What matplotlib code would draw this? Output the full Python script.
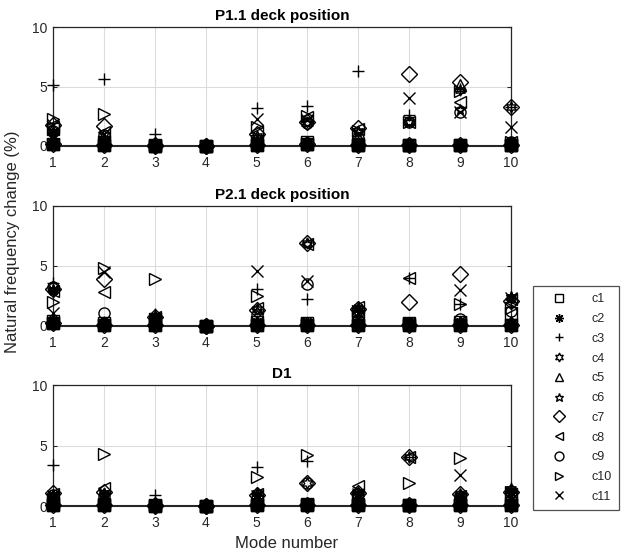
import numpy as np
import matplotlib.pyplot as plt

plt.rcParams['font.family'] = ['Liberation Sans', 'DejaVu Sans']

modes = [1, 2, 3, 4, 5, 6, 7, 8, 9, 10]
cases = ['c1', 'c2', 'c3', 'c4', 'c5', 'c6', 'c7', 'c8', 'c9', 'c10', 'c11']
markers = ['s', (8, 2, 0), '+', (6, 1, 0), '^', '*', 'D', '<', 'o', '>', 'x']
titles = ['P1.1 deck position', 'P2.1 deck position', 'D1']

# frequency change (%) for the larger damage level, one row per case
p11_change = [
    [1.4, 0.3, 0.1, 0.0, 0.4, 0.3, 0.2, 0.1, 0.1, 0.1],
    [1.2, 0.2, 0.0, 0.0, 0.3, 0.3, 0.1, 0.1, 0.1, 0.1],
    [5.1, 5.6, 1.0, 0.1, 3.2, 3.4, 6.3, 2.6, 4.8, 3.3],
    [1.2, 0.9, 0.1, 0.0, 0.8, 2.0, 1.3, 2.0, 4.7, 3.3],
    [0.3, 0.2, 0.0, 0.0, 0.3, 0.2, 0.1, 0.1, 5.1, 0.2],
    [1.0, 0.5, 0.1, 0.0, 0.6, 1.9, 1.2, 2.0, 3.0, 0.3],
    [1.8, 1.7, 0.1, 0.0, 1.0, 2.0, 1.5, 6.1, 5.4, 3.3],
    [1.6, 1.2, 0.1, 0.0, 1.3, 2.4, 1.4, 2.0, 3.7, 0.3],
    [1.3, 0.9, 0.1, 0.0, 0.5, 1.9, 0.7, 2.0, 2.9, 0.3],
    [2.3, 2.7, 0.1, 0.0, 1.6, 2.5, 1.3, 2.0, 4.6, 0.3],
    [1.8, 1.0, 0.1, 0.0, 2.3, 2.2, 1.0, 4.0, 2.9, 1.6],
]
p21_change = [
    [0.4, 0.2, 0.6, 0.0, 0.3, 0.2, 0.8, 0.2, 0.3, 1.1],
    [3.0, 0.2, 0.7, 0.0, 0.3, 0.3, 1.5, 0.2, 0.3, 2.3],
    [3.6, 0.3, 1.0, 0.0, 3.1, 2.2, 1.2, 4.0, 1.8, 2.0],
    [3.0, 0.2, 0.8, 0.0, 1.4, 6.9, 1.0, 0.2, 0.3, 2.4],
    [0.3, 0.2, 0.6, 0.0, 0.3, 0.2, 0.6, 0.2, 0.2, 0.3],
    [2.9, 0.2, 0.7, 0.0, 1.2, 6.8, 1.5, 0.2, 0.3, 2.4],
    [3.1, 3.9, 0.7, 0.0, 1.3, 6.9, 1.4, 2.0, 4.3, 2.1],
    [2.9, 2.8, 0.7, 0.0, 1.5, 6.8, 1.6, 4.0, 0.3, 2.2],
    [3.2, 1.1, 0.6, 0.0, 0.9, 3.5, 0.8, 0.2, 0.6, 1.2],
    [2.0, 4.8, 3.9, 0.0, 2.5, 0.2, 1.2, 0.2, 1.8, 1.5],
    [1.1, 4.5, 0.6, 0.0, 4.6, 3.7, 1.1, 0.2, 3.0, 2.3],
]
d1_change = [
    [0.3, 0.2, 0.1, 0.0, 0.2, 0.2, 0.2, 0.1, 0.2, 0.3],
    [0.9, 1.0, 0.2, 0.0, 0.9, 0.2, 1.0, 0.1, 0.8, 1.2],
    [3.4, 0.4, 0.9, 0.0, 3.2, 3.7, 1.1, 4.1, 1.0, 1.5],
    [0.9, 1.1, 0.1, 0.0, 1.1, 1.9, 1.2, 4.1, 1.0, 1.4],
    [0.3, 0.3, 0.1, 0.0, 0.3, 0.2, 0.3, 0.1, 0.3, 0.3],
    [0.8, 1.0, 0.1, 0.0, 0.9, 0.2, 1.0, 0.1, 0.9, 1.2],
    [1.1, 1.2, 0.1, 0.0, 0.9, 1.9, 1.1, 4.1, 1.0, 1.2],
    [1.0, 1.5, 0.1, 0.0, 1.0, 0.2, 1.7, 4.1, 0.8, 1.0],
    [0.9, 0.8, 0.1, 0.0, 0.7, 1.9, 1.0, 0.1, 0.8, 0.8],
    [0.6, 4.3, 0.1, 0.0, 2.4, 4.2, 0.8, 1.9, 4.0, 1.2],
    [0.8, 0.9, 0.1, 0.0, 0.8, 0.2, 1.0, 0.1, 2.6, 0.8],
]
# smallest damage level, nearly the same for every case
p11_small = [0.2, 0.1, 0.0, 0.0, 0.1, 0.2, 0.1, 0.1, 0.1, 0.1]
p21_small = [0.2, 0.1, 0.1, 0.0, 0.1, 0.1, 0.1, 0.1, 0.1, 0.1]
d1_small = [0.1, 0.1, 0.0, 0.0, 0.1, 0.1, 0.1, 0.1, 0.1, 0.1]

panels = [(p11_change, p11_small), (p21_change, p21_small), (d1_change, d1_small)]
ax_rects = [[0.085, 0.737, 0.734, 0.214],
            [0.085, 0.413, 0.734, 0.216],
            [0.085, 0.088, 0.734, 0.218]]

fig = plt.figure(figsize=(6.24, 5.55), dpi=100)
txt = '#262626'
msize = 8

for p in range(3):
    ax = fig.add_axes(ax_rects[p])
    big, small = panels[p]
    for i in range(len(cases)):
        ax.plot(modes, small, linestyle='none', marker=markers[i], color='k',
                markerfacecolor='none', markersize=msize, markeredgewidth=1.0,
                clip_on=False, zorder=3)
        ax.plot(modes, big[i], linestyle='none', marker=markers[i], color='k',
                markerfacecolor='none', markersize=msize, markeredgewidth=1.0,
                clip_on=False, zorder=3, label=cases[i])
    ax.set_xlim(1, 10)
    ax.set_ylim(0, 10)
    ax.set_xticks(modes)
    ax.set_yticks([0, 5, 10])
    ax.grid(True, color='#dcdcdc', linewidth=0.8)
    ax.set_axisbelow(True)
    ax.tick_params(direction='in', length=3, labelsize=10, colors=txt,
                   top=False, right=True)
    ax.tick_params(axis='x', pad=7)
    ax.tick_params(axis='y', pad=4)
    for s in ax.spines.values():
        s.set_color(txt)
        s.set_linewidth(0.9)
    ax.spines['bottom'].set_linewidth(1.5)
    ax.set_title(titles[p], fontsize=11, fontweight='bold', pad=5)
    if p == 2:
        handles, labels = ax.get_legend_handles_labels()

fig.text(0.459, 0.02, 'Mode number', ha='center', va='center',
         fontsize=12, color=txt)
fig.text(0.02, 0.564, 'Natural frequency change (%)', ha='center',
         va='center', rotation=90, fontsize=12, color=txt)

leg = fig.legend(handles, labels, loc='upper left',
                 bbox_to_anchor=(0.854, 0.485), fontsize=9,
                 frameon=True, fancybox=False, edgecolor=txt,
                 markerscale=0.8, handlelength=3.0, handletextpad=1.1,
                 labelspacing=0.62, borderpad=0.6, borderaxespad=0)
leg.get_frame().set_linewidth(0.9)
for t in leg.get_texts():
    t.set_color(txt)

fig.savefig('out.png', dpi=100)
